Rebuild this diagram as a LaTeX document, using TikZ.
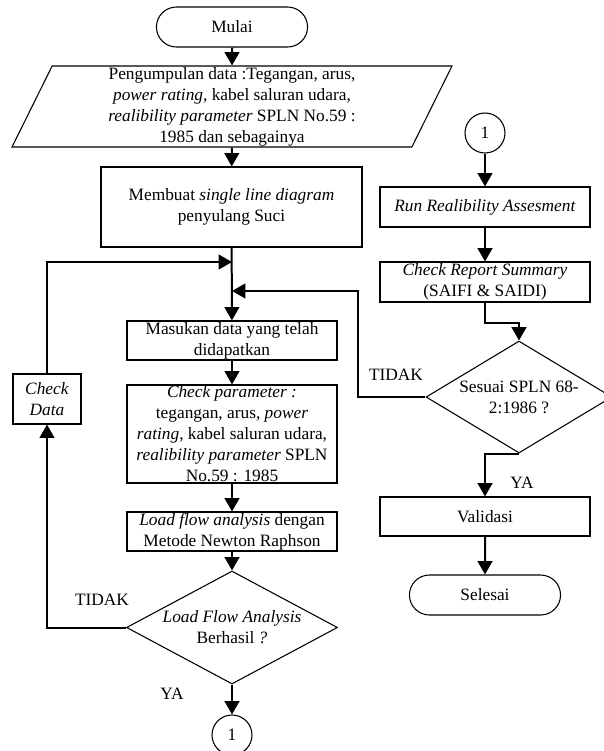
\documentclass[tikz,border=0pt]{standalone}
\usepackage{fontspec}
\setmainfont{Liberation Serif}
\usetikzlibrary{arrows.meta, positioning, shapes.geometric, shapes.misc, calc}

\begin{document}
\begin{tikzpicture}[x=0.75pt, y=-0.75pt,
    every node/.style={font=\fontsize{13}{15.75}\selectfont, align=center},
    kotak/.style={draw, line width=0.8pt, minimum width=157.5pt, minimum height=29.25pt, inner xsep=1pt, inner ysep=0pt},
    terminal/.style={draw, line width=0.8pt, rounded rectangle, minimum width=120pt, minimum height=30pt},
    masukan/.style={draw, line width=0.8pt, trapezium, trapezium left angle=63, trapezium right angle=117,
      trapezium stretches body, minimum width=330pt, minimum height=60.75pt, inner sep=0pt},
    keputusan/.style={draw, line width=0.8pt, diamond, inner sep=0pt},
    hubung/.style={draw, line width=0.8pt, circle, minimum size=30pt, inner sep=0pt},
    panah/.style={line width=1.5pt, -{Triangle[width=11pt,length=10pt]}},
    garis/.style={line width=1.5pt}]
  \clip (0,0) rectangle (604,751);

  \node[terminal] (mulai) at (232,27) {Mulai};
  \node[masukan] (kumpul) at (232,106.5) {Pengumpulan data :Tegangan, arus,\\
    \textit{power rating}, kabel saluran udara,\\
    \textit{realibility parameter} SPLN No.59 :\\ 1985 dan sebagainya};
  \node[kotak, minimum width=195.75pt, minimum height=60pt] (sld) at (231.5,207)
    {Membuat \textit{single line diagram}\\ penyulang Suci};
  \node[kotak] (isi) at (232,340.5) {Masukan data yang telah\\ didapatkan};
  \node[kotak, minimum height=73.5pt] (cekparam) at (232,434) {\textit{Check parameter :}\\
    tegangan, arus, \textit{power}\\ \textit{rating}, kabel saluran udara,\\
    \textit{realibility parameter} SPLN\\ No.59 : 1985};
  \node[kotak] (loadflow) at (232,531.5) {\textit{Load flow analysis} dengan\\ Metode Newton Raphson};
  \node[keputusan, aspect=1.87, minimum width=158.25pt, minimum height=84.75pt] (berhasil) at (232,627.5)
    {\textit{Load Flow Analysis}\\ Berhasil \textit{?}};
  \node[hubung] (satuA) at (232,735) {1};
  \node[kotak, minimum width=51pt, minimum height=37.5pt] (cekdata) at (47,399) {\textit{Check}\\ \textit{Data}};

  \node[hubung] (satuB) at (485,133) {1};
  \node[kotak, minimum height=30pt] (run) at (485,207) {\textit{Run Realibility Assesment}};
  \node[kotak, minimum height=30pt] (report) at (485,282) {\textit{Check Report Summary}\\ (SAIFI \& SAIDI)};
  \node[keputusan, aspect=1.66, minimum width=139.5pt, minimum height=84pt] (sesuai) at (519,397)
    {Sesuai SPLN 68-\\ 2:1986 ?};
  \node[kotak] (validasi) at (485,516.5) {Validasi};
  \node[terminal] (selesai) at (485,595) {Selesai};

  \node (tidakA) at (102,600) {TIDAK};
  \node (yaA) at (172,694) {YA};
  \node (tidakB) at (396,375) {TIDAK};
  \node (yaB) at (522,483) {YA};

  \coordinate (temu1) at (232,262);
  \coordinate (temu2) at (232,291);

  \draw[panah] (mulai) -- (kumpul);
  \draw[panah] (kumpul) -- (sld);
  \draw[panah] (sld) -- (isi);
  \draw[panah] (isi) -- (cekparam);
  \draw[panah] (cekparam) -- (loadflow);
  \draw[panah] (loadflow) -- (berhasil);
  \draw[panah] (berhasil) -- (satuA);
  \draw[panah] (berhasil.west) -| (cekdata.south);
  \draw[panah] (cekdata.north) |- (temu1);

  \draw[panah] (satuB) -- (run);
  \draw[panah] (run) -- (report);
  \draw[panah] (report.south) -- ++(0,20) -| (sesuai.north);
  \draw[panah] (sesuai.west) -- ++(-67,0) |- (temu2);
  \draw[panah] (sesuai.south) -| (validasi.north);
  \draw[panah] (validasi) -- (selesai);
\end{tikzpicture}
\end{document}
